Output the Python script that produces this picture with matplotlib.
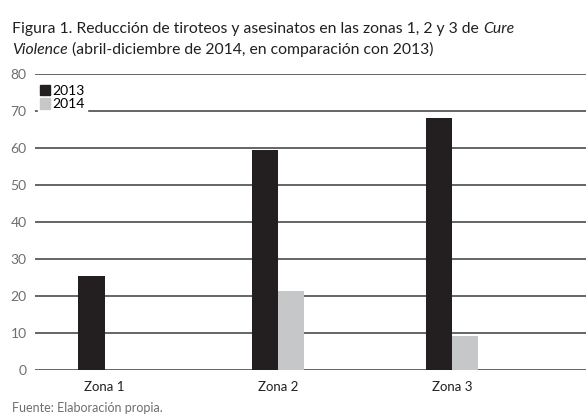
import matplotlib
matplotlib.use("Agg")
import matplotlib.pyplot as plt
import numpy as np
from matplotlib.patches import Patch

# datos
zonas = ["Zona 1", "Zona 2", "Zona 3"]
valores_2013 = [25.5, 59.4, 68.2]
valores_2014 = [0, 21.4, 9.2]
anios = ["2013", "2014"]
yticks = [0, 10, 20, 30, 40, 50, 60, 70, 80]

color_2013 = "#231f20"
color_2014 = "#c6c7c8"
gris_texto = "#6d6e71"

plt.rcParams['font.family'] = ['Lato', 'DejaVu Sans']

fig = plt.figure(figsize=(5.86, 4.18), dpi=100)
ax = fig.add_axes([35 / 586, 1 - 370 / 418, 1 - 35 / 586, (370 - 74) / 418])

x = np.arange(len(zonas))
ancho = 0.15
ax.bar(x - ancho / 2, valores_2013, ancho, color=color_2013, zorder=3)
ax.bar(x + ancho / 2, valores_2014, ancho, color=color_2014, zorder=3)

ax.set_ylim(0, 80)
ax.set_xlim(-0.40, 2.77)
ax.set_yticks(yticks)
ax.set_xticks(x)
ax.set_xticklabels(zonas, fontsize=9.5, color="#231f20")
ax.tick_params(axis="y", length=0, labelsize=10, labelcolor=gris_texto, pad=6)
ax.tick_params(axis="x", length=0, pad=8)
ax.grid(axis="y", color="#58595b", linewidth=1.3, zorder=0)
for s in ax.spines.values():
    s.set_visible(False)

handles = [Patch(color=color_2013), Patch(color=color_2014)]
leg = ax.legend(handles, anios, loc="upper left", bbox_to_anchor=(0.005, 0.97),
                frameon=True, fancybox=False, framealpha=1, edgecolor="white",
                handlelength=0.75, handleheight=0.75, handletextpad=0.15,
                labelspacing=0.1, borderpad=0.15, borderaxespad=0, fontsize=10)
leg.set_zorder(5)

tam = 11.3
fig.text(12 / 586, 1 - 33 / 418, "Figura 1. Reducción de tiroteos y asesinatos en las zonas 1, 2 y 3 de ",
         fontsize=tam, color="#231f20", va="baseline")
fig.canvas.draw()
r = fig.texts[0].get_window_extent()
fig.text(r.x1 / 586, 1 - 33 / 418, "Cure", fontsize=tam, style="italic", color="#231f20", va="baseline")
fig.text(12 / 586, 1 - 54 / 418, "Violence", fontsize=tam, style="italic", color="#231f20", va="baseline")
fig.canvas.draw()
r2 = fig.texts[-1].get_window_extent()
fig.text(r2.x1 / 586, 1 - 54 / 418, " (abril-diciembre de 2014, en comparación con 2013)",
         fontsize=tam, color="#231f20", va="baseline")

fig.text(12 / 586, 1 - 412 / 418, "Fuente: Elaboración propia.", fontsize=9, color=gris_texto, va="baseline")

fig.savefig("out.png", dpi=100)
